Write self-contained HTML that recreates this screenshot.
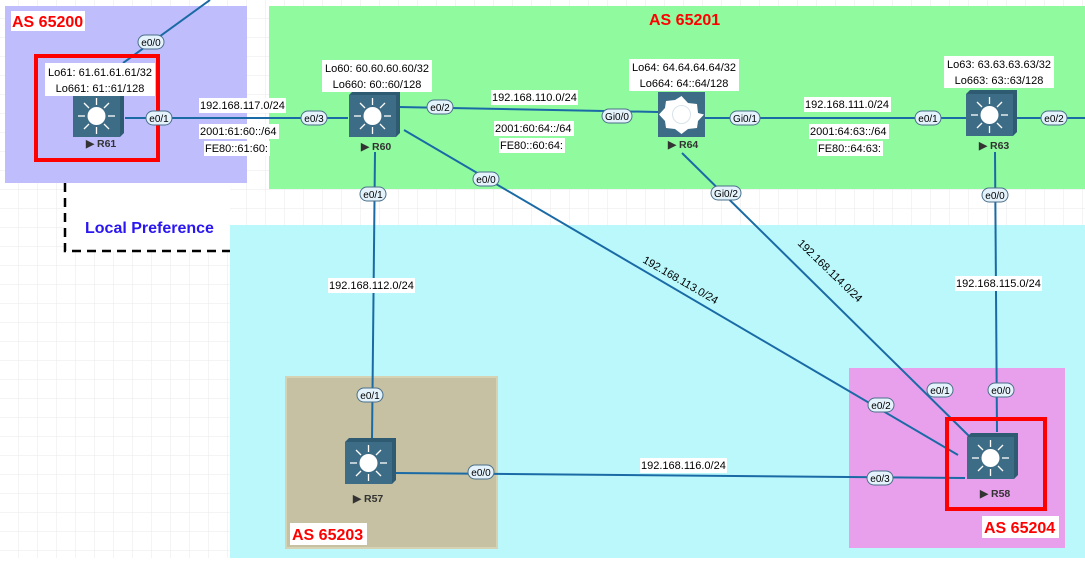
<!DOCTYPE html>
<html><head><meta charset="utf-8"><style>
body{margin:0;width:1085px;height:558px;overflow:hidden;background:#fff;font-family:"Liberation Sans",Arial,sans-serif}
svg text{font-family:"Liberation Sans",Arial,sans-serif}
</style></head><body>
<svg width="1085" height="558" xmlns="http://www.w3.org/2000/svg">
<defs>
<pattern id="g" width="19" height="19" patternUnits="userSpaceOnUse"><path d="M19 0V19H0" fill="none" stroke="#e8e8e8" stroke-width="1"/></pattern>
<g id="sw">
  <polygon points="0,4 4,0 51,0 51,42 47,46 47,4" fill="#2e5a72"/>
  <rect x="0" y="4" width="47" height="42" fill="#3d6c86"/>
  <circle cx="23.5" cy="25" r="9" fill="#fff"/>
  <g stroke="#fff" stroke-width="1.3">
   <line x1="23.5" y1="14" x2="23.5" y2="7"/><line x1="23.5" y1="36" x2="23.5" y2="43"/>
   <line x1="12" y1="25" x2="5" y2="25"/><line x1="35" y1="25" x2="42" y2="25"/>
   <line x1="16" y1="17" x2="11" y2="12"/><line x1="31" y1="17" x2="36" y2="12"/>
   <line x1="16" y1="33" x2="11" y2="38"/><line x1="31" y1="33" x2="36" y2="38"/>
  </g>
</g>
</defs>
<rect width="1085" height="558" fill="url(#g)"/>
<rect x="65" y="183" width="165" height="68" fill="#fff"/>
<path d="M65 183V251H230" fill="none" stroke="#000" stroke-width="2.5" stroke-dasharray="9,6"/>
<rect x="5" y="6" width="242" height="177" fill="#c0bdfc"/>
<rect x="269" y="6" width="816" height="183" fill="#90fa9f"/>
<rect x="230" y="225" width="855" height="333" fill="#baf8fb"/>
<rect x="286" y="377" width="211" height="171" fill="#c5c1a2" stroke="#d6d2b4" stroke-width="2"/>
<rect x="849" y="368" width="216" height="180" fill="#e8a0ec"/>
<text x="85" y="233" font-size="16" font-weight="bold" fill="#2a16f0">Local Preference</text>

<g stroke="#1a6aa6" stroke-width="2" fill="none">
<line x1="123" y1="63" x2="210" y2="0"/>
<line x1="125" y1="118" x2="348" y2="118"/>
<line x1="398" y1="107" x2="658" y2="112"/>
<line x1="705" y1="118" x2="966" y2="118"/>
<line x1="1015" y1="118" x2="1085" y2="118"/>
<line x1="404" y1="130" x2="958" y2="455"/>
<line x1="682" y1="153" x2="970" y2="437"/>
<line x1="995" y1="152" x2="997" y2="432"/>
<line x1="375" y1="152" x2="372" y2="440"/>
<line x1="396" y1="473" x2="965" y2="478"/>
</g>

<rect x="36" y="56" width="122" height="104" fill="none" stroke="#f00" stroke-width="4"/>
<rect x="947" y="419" width="98" height="90" fill="none" stroke="#f00" stroke-width="4"/>

<use href="#sw" x="73" y="91"/>
<use href="#sw" x="349" y="91"/>
<use href="#sw" x="966" y="90"/>
<use href="#sw" x="345" y="438"/>
<use href="#sw" x="967" y="433"/>
<!-- R64 -->
<rect x="658" y="92" width="47" height="45" fill="#3d6c86"/>
<polygon points="681.5,96 688,103 697,104 698,113 704,114.5 698,121 697,128 688,129 681.5,134 675,129 666,128 665,121 659,114.5 665,108 666,101 675,100" fill="#fff"/>
<circle cx="681.5" cy="114.5" r="9" fill="#fff" stroke="#d8e4ea"/>

<g font-size="10.5" font-weight="bold" fill="#333">
<text x="86" y="147">▶ R61</text>
<text x="361" y="150">▶ R60</text>
<text x="668" y="148">▶ R64</text>
<text x="979" y="149">▶ R63</text>
<text x="353" y="502">▶ R57</text>
<text x="980" y="497">▶ R58</text>
</g>

<g font-size="11" fill="#000" text-anchor="middle">
<rect x="45" y="63" width="110" height="33" fill="#fff"/>
<text x="100" y="76">Lo61: 61.61.61.61/32</text><text x="100" y="92">Lo661: 61::61/128</text>
<rect x="322" y="60" width="110" height="32" fill="#fff"/>
<text x="377" y="72">Lo60: 60.60.60.60/32</text><text x="377" y="88">Lo660: 60::60/128</text>
<rect x="629" y="59" width="110" height="32" fill="#fff"/>
<text x="684" y="71">Lo64: 64.64.64.64/32</text><text x="684" y="87">Lo664: 64::64/128</text>
<rect x="944" y="56" width="110" height="32" fill="#fff"/>
<text x="999" y="68">Lo63: 63.63.63.63/32</text><text x="999" y="84">Lo663: 63::63/128</text>
</g>
<g font-size="11" fill="#000">
<rect x="199" y="98" width="87" height="15" fill="#fff"/><text x="200" y="109">192.168.117.0/24</text>
<rect x="199" y="124" width="80" height="15" fill="#fff"/><text x="200" y="135">2001:61:60::/64</text>
<rect x="204" y="141" width="66" height="15" fill="#fff"/><text x="205" y="152">FE80::61:60:</text>
<rect x="491" y="90" width="87" height="15" fill="#fff"/><text x="492" y="101">192.168.110.0/24</text>
<rect x="494" y="121" width="80" height="15" fill="#fff"/><text x="495" y="132">2001:60:64::/64</text>
<rect x="499" y="138" width="66" height="15" fill="#fff"/><text x="500" y="149">FE80::60:64:</text>
<rect x="804" y="97" width="87" height="15" fill="#fff"/><text x="805" y="108">192.168.111.0/24</text>
<rect x="809" y="124" width="80" height="15" fill="#fff"/><text x="810" y="135">2001:64:63::/64</text>
<rect x="817" y="141" width="66" height="15" fill="#fff"/><text x="818" y="152">FE80::64:63:</text>
<rect x="328" y="278" width="87" height="15" fill="#fff"/><text x="329" y="289">192.168.112.0/24</text>
<rect x="955" y="276" width="87" height="15" fill="#fff"/><text x="956" y="287">192.168.115.0/24</text>
<rect x="640" y="458" width="87" height="15" fill="#fff"/><text x="641" y="469">192.168.116.0/24</text>
<text x="0" y="0" transform="translate(642,262) rotate(30)">192.168.113.0/24</text>
<text x="0" y="0" transform="translate(797,244) rotate(44)">192.168.114.0/24</text>
</g>

<g font-size="10" text-anchor="middle" fill="#000">
<g fill="#e4f2fb" stroke="#4a6f8a" stroke-width="1">
<rect x="138" y="35" width="26" height="14" rx="7"/>
<rect x="146" y="111" width="26" height="14" rx="7"/>
<rect x="301" y="111" width="26" height="14" rx="7"/>
<rect x="427" y="100" width="26" height="14" rx="7"/>
<rect x="360" y="187" width="26" height="14" rx="7"/>
<rect x="473" y="172" width="26" height="14" rx="7"/>
<rect x="602" y="109" width="30" height="14" rx="7"/>
<rect x="730" y="111" width="30" height="14" rx="7"/>
<rect x="711" y="186" width="30" height="14" rx="7"/>
<rect x="915" y="111" width="26" height="14" rx="7"/>
<rect x="1041" y="111" width="26" height="14" rx="7"/>
<rect x="982" y="188" width="26" height="14" rx="7"/>
<rect x="357" y="388" width="26" height="14" rx="7"/>
<rect x="468" y="465" width="26" height="14" rx="7"/>
<rect x="868" y="398" width="26" height="14" rx="7"/>
<rect x="927" y="383" width="26" height="14" rx="7"/>
<rect x="988" y="383" width="26" height="14" rx="7"/>
<rect x="867" y="471" width="26" height="14" rx="7"/>
</g>
<text x="151" y="46">e0/0</text><text x="159" y="122">e0/1</text><text x="314" y="122">e0/3</text>
<text x="440" y="111">e0/2</text><text x="373" y="198">e0/1</text><text x="486" y="183">e0/0</text>
<text x="617" y="120">Gi0/0</text><text x="745" y="122">Gi0/1</text><text x="726" y="197">Gi0/2</text>
<text x="928" y="122">e0/1</text><text x="1054" y="122">e0/2</text><text x="995" y="199">e0/0</text>
<text x="370" y="399">e0/1</text><text x="481" y="476">e0/0</text><text x="881" y="409">e0/2</text>
<text x="940" y="394">e0/1</text><text x="1001" y="394">e0/0</text><text x="880" y="482">e0/3</text>
</g>

<g font-size="16" font-weight="bold" fill="#f00">
<rect x="11" y="11" width="74" height="20" fill="#fff"/><text x="12" y="27">AS 65200</text>
<text x="649" y="25">AS 65201</text>
<rect x="290" y="523" width="77" height="22" fill="#fff"/><text x="292" y="540">AS 65203</text>
<rect x="982" y="516" width="77" height="22" fill="#fff"/><text x="984" y="533">AS 65204</text>
</g>
</svg>
</body></html>
